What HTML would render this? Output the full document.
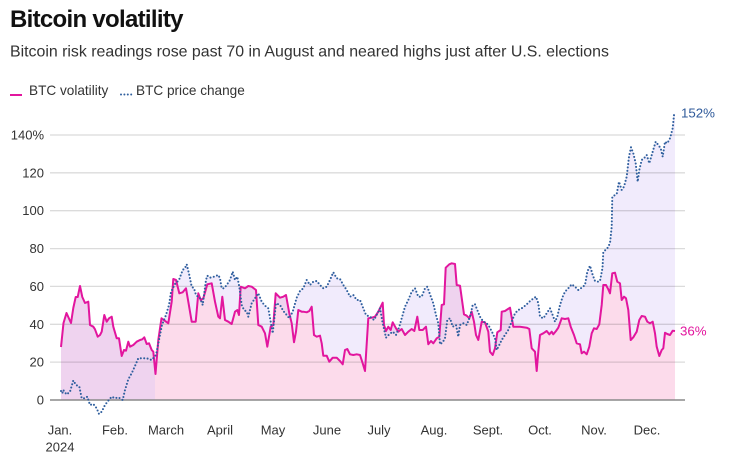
<!DOCTYPE html>
<html><head><meta charset="utf-8">
<style>
html,body{margin:0;padding:0;background:#fff;}
body{width:745px;height:466px;overflow:hidden;font-family:"Liberation Sans",Arial,sans-serif;}
</style></head>
<body>
<svg width="745" height="466" viewBox="0 0 745 466" xmlns="http://www.w3.org/2000/svg" style="display:block;font-family:'Liberation Sans',Arial,sans-serif;">
<defs>
<clipPath id="above0"><rect x="0" y="0" width="745" height="400"/></clipPath>
<clipPath id="abovePrice">
<rect x="0" y="0" width="155" height="466"/>
<polygon points="61,391 62.3,393.3 63.3,390 64.3,391.7 66.7,394.5 70,391.7 73.3,380.5 76,385 79.3,386.5 81.7,398.3 85,398.3 87.3,396.7 90,405 93.3,404 96.7,408.3 99,414 101.7,411.7 105,405 108.3,400.7 111.7,396.7 115,398.3 118.3,397.3 122.7,400 125,390 128.3,379.3 131.7,373.3 135,366 138.3,358.3 141.7,358.3 146.7,358.3 151.7,360 156,355 159,340 162,325 166,315 169,305 171,292 175,284 179,280 182.7,270 185,268 186.7,264.3 189.3,275 191.7,286.7 194,288.3 196,295 200,298.3 202.7,305 206,280 207.3,275.7 210,277.7 214,276.7 218.3,275 220,278.3 221.7,288.3 224,288.3 226.7,285 230,280 232.7,271.7 235,280 237.3,276.7 239.3,286.7 241.7,305 244,310 246.7,311.7 248.3,316.7 251.7,303.3 255,298.3 258.3,293.3 261.7,301.7 265,305.7 268.3,308.3 270.7,321.7 272.7,333.3 276,303.3 280,305 283.3,311 286.7,315 289.3,318.3 292.7,311.7 296.7,297.7 300,291 303.3,288.3 306.7,280 310,285 313.3,281.7 316.7,281 320,285 323.3,288.3 326.7,286.7 330,280 333.3,272.3 336.7,278.3 340,279 343.3,285 346.7,290 350,296.7 353.3,295 356.7,300 360,300 363.3,308.3 366,315 370,316.7 374,320 376.7,315 380,308.3 382.7,323.3 386,337.7 389.3,334.3 392.7,331.7 396,335 399.3,326.7 401.7,318.3 405,306.7 408.3,300 411.7,291.7 415,288.3 418.3,296.7 421.7,296.7 425,288.3 427.3,286.7 430,294.3 433.3,303.3 436,315 438.3,323.3 440,344.3 442.7,342.3 445,338.3 447.3,320 450,318.3 452.7,326.7 456,325 458.3,336.7 460,325 463.3,323.3 466.7,325 470,316.7 472.7,305 475,304.3 477.3,310 480,316.7 483.3,321.7 486.7,323.3 489.3,326.7 492.7,333.3 495,338.3 496.7,350 499.3,345 501.7,340 505,335 508.3,330 511.7,321.7 515,313.3 518.3,310 521.7,308.3 526,305 529.3,301.7 532.7,299 536,296.7 538.3,303.3 540,316.7 543.3,318.3 546.7,313.3 550,308.3 553.3,316.7 555,321.7 557.3,316.7 560,305 562.7,296.7 565,291.7 568.3,288.3 571.7,284.3 575,286.7 578.3,290 581.7,287.7 585,285 587.3,271.7 590,265.7 592.7,275 595,281 598.3,281.7 600,281 602.5,268 603.3,252 607.3,248.3 610,243.3 611.7,226.7 612.3,196.7 616.7,194 619,181.7 621.7,190 624,186.7 626.7,176.7 629,156.7 631,147.3 633.3,153.3 635.7,163.3 637.7,181.7 639.3,170 641.7,160 644,158.3 646.7,155 649.3,163.3 652.7,151.7 655.7,141.7 658.3,145 660.7,148.3 662.7,156.7 665,141.7 667.3,143.3 670,138.3 672.7,128.3 674,115 675,113 675,0 61,0"/>
</clipPath>
</defs>

<!-- Title -->
<text x="10" y="27" font-size="24" font-weight="bold" fill="#111" letter-spacing="-0.7">Bitcoin volatility</text>
<text x="10" y="56.5" font-size="15.9" fill="#333">Bitcoin risk readings rose past 70 in August and neared highs just after U.S. elections</text>

<!-- Legend -->
<line x1="10" y1="95" x2="22" y2="95" stroke="#e2169e" stroke-width="2"/>
<text x="29" y="95" font-size="13.6" fill="#333">BTC volatility</text>
<line x1="121" y1="94.5" x2="134" y2="94.5" stroke="#2f5f9e" stroke-width="2" stroke-dasharray="0 3.4" stroke-linecap="round"/>
<text x="136" y="95" font-size="13.6" fill="#333">BTC price change</text>

<!-- Fills -->
<polygon clip-path="url(#above0)" fill="#f1ebfc" points="61,391 62.3,393.3 63.3,390 64.3,391.7 66.7,394.5 70,391.7 73.3,380.5 76,385 79.3,386.5 81.7,398.3 85,398.3 87.3,396.7 90,405 93.3,404 96.7,408.3 99,414 101.7,411.7 105,405 108.3,400.7 111.7,396.7 115,398.3 118.3,397.3 122.7,400 125,390 128.3,379.3 131.7,373.3 135,366 138.3,358.3 141.7,358.3 146.7,358.3 151.7,360 156,355 159,340 162,325 166,315 169,305 171,292 175,284 179,280 182.7,270 185,268 186.7,264.3 189.3,275 191.7,286.7 194,288.3 196,295 200,298.3 202.7,305 206,280 207.3,275.7 210,277.7 214,276.7 218.3,275 220,278.3 221.7,288.3 224,288.3 226.7,285 230,280 232.7,271.7 235,280 237.3,276.7 239.3,286.7 241.7,305 244,310 246.7,311.7 248.3,316.7 251.7,303.3 255,298.3 258.3,293.3 261.7,301.7 265,305.7 268.3,308.3 270.7,321.7 272.7,333.3 276,303.3 280,305 283.3,311 286.7,315 289.3,318.3 292.7,311.7 296.7,297.7 300,291 303.3,288.3 306.7,280 310,285 313.3,281.7 316.7,281 320,285 323.3,288.3 326.7,286.7 330,280 333.3,272.3 336.7,278.3 340,279 343.3,285 346.7,290 350,296.7 353.3,295 356.7,300 360,300 363.3,308.3 366,315 370,316.7 374,320 376.7,315 380,308.3 382.7,323.3 386,337.7 389.3,334.3 392.7,331.7 396,335 399.3,326.7 401.7,318.3 405,306.7 408.3,300 411.7,291.7 415,288.3 418.3,296.7 421.7,296.7 425,288.3 427.3,286.7 430,294.3 433.3,303.3 436,315 438.3,323.3 440,344.3 442.7,342.3 445,338.3 447.3,320 450,318.3 452.7,326.7 456,325 458.3,336.7 460,325 463.3,323.3 466.7,325 470,316.7 472.7,305 475,304.3 477.3,310 480,316.7 483.3,321.7 486.7,323.3 489.3,326.7 492.7,333.3 495,338.3 496.7,350 499.3,345 501.7,340 505,335 508.3,330 511.7,321.7 515,313.3 518.3,310 521.7,308.3 526,305 529.3,301.7 532.7,299 536,296.7 538.3,303.3 540,316.7 543.3,318.3 546.7,313.3 550,308.3 553.3,316.7 555,321.7 557.3,316.7 560,305 562.7,296.7 565,291.7 568.3,288.3 571.7,284.3 575,286.7 578.3,290 581.7,287.7 585,285 587.3,271.7 590,265.7 592.7,275 595,281 598.3,281.7 600,281 602.5,268 603.3,252 607.3,248.3 610,243.3 611.7,226.7 612.3,196.7 616.7,194 619,181.7 621.7,190 624,186.7 626.7,176.7 629,156.7 631,147.3 633.3,153.3 635.7,163.3 637.7,181.7 639.3,170 641.7,160 644,158.3 646.7,155 649.3,163.3 652.7,151.7 655.7,141.7 658.3,145 660.7,148.3 662.7,156.7 665,141.7 667.3,143.3 670,138.3 672.7,128.3 674,115 675,113 675,400 61,400"/>

<polygon fill="#fcdbeb" points="61,347 63.5,323 66.5,313 71,323 73.3,308 75.7,297 77.7,297 80,286 82.3,297 85,303 88.3,301.7 90,325 93.3,326.7 95,329.3 97.7,336.7 100,335 101.7,331.7 104.3,315 106.7,321.7 109,318.3 111.7,316.7 113.3,326.7 116.7,338.3 119,338.3 121.7,356 124,350 126,350.7 128.3,341.7 130,346.7 133.3,345 136.7,341.7 140,340 142.3,339.3 144.3,337.3 146.7,344 149,343.3 151.7,350 153.3,351.7 155.5,374 158.3,340 161.5,318.3 168.3,323.3 171.7,301.7 173.3,279 176,280 179.3,293.3 182.7,292.3 186,288.3 188.3,301.7 191.7,321.7 195.7,321.7 198.3,293.3 200.7,300 203.3,298.3 207.3,284.3 211.7,283.3 215,301.7 218.3,316.7 220,318.3 222.3,296.7 225,320 228.3,321.7 231.7,324 235,311.7 237.3,310 239,315 240.7,286.7 245,288.3 248.3,286 251.7,286.7 256,290 258.3,325 261.7,326.7 265,333.3 267.3,346.7 270.7,326.7 273.3,325 275.7,293.3 280,297.7 283.3,296.7 286,295 289.3,313.3 291.7,323.3 294,342.3 296,331.7 298.3,310 301.7,311.7 303.3,311.7 306.7,312.3 309.3,311 311.7,306.7 314,335 316.7,336.7 320,335.7 321.7,343.3 323.3,355.7 326.7,355.7 329.3,361.7 332.7,357.7 336.7,357.7 340,361 342.7,364.3 345,350 347.3,349 350,354.3 353.3,355 356.7,354.3 360,355 362.7,363.3 365,371 368.3,318.3 371.7,317.7 375,316.7 378.3,311.7 382.7,302.7 384,325 386,331 388.3,326.7 390.7,330 392.7,322.3 396,328.3 398.3,331.7 401.7,329 405,335 408.3,331.7 411.7,329 414.3,331 417.3,316.7 419.3,330 422.7,330 426,326.7 428.3,344.3 431,341 433.3,343.3 436.7,338.3 439.3,336.7 441.7,305 444,304.3 445.7,267.7 449.3,264.3 451.7,263.3 455,264 456.7,285 460,285.7 462.7,305 464,314.3 466.7,315.7 469.3,318.3 471.7,311.7 474,321.7 476,335 478.3,340 481.7,321.7 485,322.3 488.3,331.7 490,351.7 492.7,355 495,348.3 497.3,332.3 500.7,330 501.7,311.7 505,311 510,307.7 513.3,326.7 520,326.7 526.7,327.7 529.3,329 531.7,348.3 535,351.7 536.7,371 538.3,351.7 540,335 543.3,333.3 546.7,331 549.3,334.3 551.7,331.7 553.3,334.3 556,331 558.3,327.7 561.7,318.3 565,319 568.3,318.3 570.7,326.7 574,335 576.7,343.3 580,344.3 581.7,353.3 584,351.7 586.7,354.3 589.3,346.7 591.7,333.3 594,328.3 596.7,329 599.3,324.3 601.7,305 603.3,285 606,285 608.3,289.3 610,293.3 612.3,273.3 615,272.7 617.3,281.7 620,283.3 621.7,300 624,296.7 626,298.3 628.3,310 630.7,340 633.3,337.3 636.7,331.7 639.3,320 641.7,316 645,316.7 647.3,321.7 650,323.3 652.7,321.7 655,333.3 656.7,346.7 659.3,356 661.7,350 663.3,348.3 665,332.7 667.3,334 670,335 672.7,330.7 675,331 675,400 61,400"/>
<polygon clip-path="url(#abovePrice)" fill="#efd3ef" points="61,347 63.5,323 66.5,313 71,323 73.3,308 75.7,297 77.7,297 80,286 82.3,297 85,303 88.3,301.7 90,325 93.3,326.7 95,329.3 97.7,336.7 100,335 101.7,331.7 104.3,315 106.7,321.7 109,318.3 111.7,316.7 113.3,326.7 116.7,338.3 119,338.3 121.7,356 124,350 126,350.7 128.3,341.7 130,346.7 133.3,345 136.7,341.7 140,340 142.3,339.3 144.3,337.3 146.7,344 149,343.3 151.7,350 153.3,351.7 155.5,374 158.3,340 161.5,318.3 168.3,323.3 171.7,301.7 173.3,279 176,280 179.3,293.3 182.7,292.3 186,288.3 188.3,301.7 191.7,321.7 195.7,321.7 198.3,293.3 200.7,300 203.3,298.3 207.3,284.3 211.7,283.3 215,301.7 218.3,316.7 220,318.3 222.3,296.7 225,320 228.3,321.7 231.7,324 235,311.7 237.3,310 239,315 240.7,286.7 245,288.3 248.3,286 251.7,286.7 256,290 258.3,325 261.7,326.7 265,333.3 267.3,346.7 270.7,326.7 273.3,325 275.7,293.3 280,297.7 283.3,296.7 286,295 289.3,313.3 291.7,323.3 294,342.3 296,331.7 298.3,310 301.7,311.7 303.3,311.7 306.7,312.3 309.3,311 311.7,306.7 314,335 316.7,336.7 320,335.7 321.7,343.3 323.3,355.7 326.7,355.7 329.3,361.7 332.7,357.7 336.7,357.7 340,361 342.7,364.3 345,350 347.3,349 350,354.3 353.3,355 356.7,354.3 360,355 362.7,363.3 365,371 368.3,318.3 371.7,317.7 375,316.7 378.3,311.7 382.7,302.7 384,325 386,331 388.3,326.7 390.7,330 392.7,322.3 396,328.3 398.3,331.7 401.7,329 405,335 408.3,331.7 411.7,329 414.3,331 417.3,316.7 419.3,330 422.7,330 426,326.7 428.3,344.3 431,341 433.3,343.3 436.7,338.3 439.3,336.7 441.7,305 444,304.3 445.7,267.7 449.3,264.3 451.7,263.3 455,264 456.7,285 460,285.7 462.7,305 464,314.3 466.7,315.7 469.3,318.3 471.7,311.7 474,321.7 476,335 478.3,340 481.7,321.7 485,322.3 488.3,331.7 490,351.7 492.7,355 495,348.3 497.3,332.3 500.7,330 501.7,311.7 505,311 510,307.7 513.3,326.7 520,326.7 526.7,327.7 529.3,329 531.7,348.3 535,351.7 536.7,371 538.3,351.7 540,335 543.3,333.3 546.7,331 549.3,334.3 551.7,331.7 553.3,334.3 556,331 558.3,327.7 561.7,318.3 565,319 568.3,318.3 570.7,326.7 574,335 576.7,343.3 580,344.3 581.7,353.3 584,351.7 586.7,354.3 589.3,346.7 591.7,333.3 594,328.3 596.7,329 599.3,324.3 601.7,305 603.3,285 606,285 608.3,289.3 610,293.3 612.3,273.3 615,272.7 617.3,281.7 620,283.3 621.7,300 624,296.7 626,298.3 628.3,310 630.7,340 633.3,337.3 636.7,331.7 639.3,320 641.7,316 645,316.7 647.3,321.7 650,323.3 652.7,321.7 655,333.3 656.7,346.7 659.3,356 661.7,350 663.3,348.3 665,332.7 667.3,334 670,335 672.7,330.7 675,331 675,400 61,400"/>

<!-- Grid -->
<g stroke="rgba(0,0,0,0.14)" stroke-width="1.3">
<line x1="50" y1="135" x2="685" y2="135"/>
<line x1="50" y1="172.8" x2="685" y2="172.8"/>
<line x1="50" y1="210.7" x2="685" y2="210.7"/>
<line x1="50" y1="248.6" x2="685" y2="248.6"/>
<line x1="50" y1="286.4" x2="685" y2="286.4"/>
<line x1="50" y1="324.3" x2="685" y2="324.3"/>
<line x1="50" y1="362.1" x2="685" y2="362.1"/>
</g>
<line x1="50" y1="400" x2="685" y2="400" stroke="#8a8a8a" stroke-width="1.5"/>

<!-- Y labels -->
<g font-size="13" fill="#333" text-anchor="end">
<text x="44" y="139.5">140%</text>
<text x="44" y="177.3">120</text>
<text x="44" y="215.2">100</text>
<text x="44" y="253.1">80</text>
<text x="44" y="290.9">60</text>
<text x="44" y="328.8">40</text>
<text x="44" y="366.6">20</text>
<text x="44" y="404.5">0</text>
</g>

<!-- X labels -->
<g font-size="13" fill="#333" text-anchor="middle">
<text x="60" y="434.5">Jan.</text>
<text x="60" y="451.5">2024</text>
<text x="115" y="434.5">Feb.</text>
<text x="166" y="434.5">March</text>
<text x="220" y="434.5">April</text>
<text x="273" y="434.5">May</text>
<text x="327" y="434.5">June</text>
<text x="379" y="434.5">July</text>
<text x="434" y="434.5">Aug.</text>
<text x="488" y="434.5">Sept.</text>
<text x="540" y="434.5">Oct.</text>
<text x="594" y="434.5">Nov.</text>
<text x="647" y="434.5">Dec.</text>
</g>

<!-- Volatility line -->
<polyline fill="none" stroke="#e2169e" stroke-width="2" stroke-linejoin="round" points="61,347 63.5,323 66.5,313 71,323 73.3,308 75.7,297 77.7,297 80,286 82.3,297 85,303 88.3,301.7 90,325 93.3,326.7 95,329.3 97.7,336.7 100,335 101.7,331.7 104.3,315 106.7,321.7 109,318.3 111.7,316.7 113.3,326.7 116.7,338.3 119,338.3 121.7,356 124,350 126,350.7 128.3,341.7 130,346.7 133.3,345 136.7,341.7 140,340 142.3,339.3 144.3,337.3 146.7,344 149,343.3 151.7,350 153.3,351.7 155.5,374 158.3,340 161.5,318.3 168.3,323.3 171.7,301.7 173.3,279 176,280 179.3,293.3 182.7,292.3 186,288.3 188.3,301.7 191.7,321.7 195.7,321.7 198.3,293.3 200.7,300 203.3,298.3 207.3,284.3 211.7,283.3 215,301.7 218.3,316.7 220,318.3 222.3,296.7 225,320 228.3,321.7 231.7,324 235,311.7 237.3,310 239,315 240.7,286.7 245,288.3 248.3,286 251.7,286.7 256,290 258.3,325 261.7,326.7 265,333.3 267.3,346.7 270.7,326.7 273.3,325 275.7,293.3 280,297.7 283.3,296.7 286,295 289.3,313.3 291.7,323.3 294,342.3 296,331.7 298.3,310 301.7,311.7 303.3,311.7 306.7,312.3 309.3,311 311.7,306.7 314,335 316.7,336.7 320,335.7 321.7,343.3 323.3,355.7 326.7,355.7 329.3,361.7 332.7,357.7 336.7,357.7 340,361 342.7,364.3 345,350 347.3,349 350,354.3 353.3,355 356.7,354.3 360,355 362.7,363.3 365,371 368.3,318.3 371.7,317.7 375,316.7 378.3,311.7 382.7,302.7 384,325 386,331 388.3,326.7 390.7,330 392.7,322.3 396,328.3 398.3,331.7 401.7,329 405,335 408.3,331.7 411.7,329 414.3,331 417.3,316.7 419.3,330 422.7,330 426,326.7 428.3,344.3 431,341 433.3,343.3 436.7,338.3 439.3,336.7 441.7,305 444,304.3 445.7,267.7 449.3,264.3 451.7,263.3 455,264 456.7,285 460,285.7 462.7,305 464,314.3 466.7,315.7 469.3,318.3 471.7,311.7 474,321.7 476,335 478.3,340 481.7,321.7 485,322.3 488.3,331.7 490,351.7 492.7,355 495,348.3 497.3,332.3 500.7,330 501.7,311.7 505,311 510,307.7 513.3,326.7 520,326.7 526.7,327.7 529.3,329 531.7,348.3 535,351.7 536.7,371 538.3,351.7 540,335 543.3,333.3 546.7,331 549.3,334.3 551.7,331.7 553.3,334.3 556,331 558.3,327.7 561.7,318.3 565,319 568.3,318.3 570.7,326.7 574,335 576.7,343.3 580,344.3 581.7,353.3 584,351.7 586.7,354.3 589.3,346.7 591.7,333.3 594,328.3 596.7,329 599.3,324.3 601.7,305 603.3,285 606,285 608.3,289.3 610,293.3 612.3,273.3 615,272.7 617.3,281.7 620,283.3 621.7,300 624,296.7 626,298.3 628.3,310 630.7,340 633.3,337.3 636.7,331.7 639.3,320 641.7,316 645,316.7 647.3,321.7 650,323.3 652.7,321.7 655,333.3 656.7,346.7 659.3,356 661.7,350 663.3,348.3 665,332.7 667.3,334 670,335 672.7,330.7 675,331"/>

<!-- Price line (dotted) -->
<polyline fill="none" stroke="#2f5f9e" stroke-width="2.1" stroke-dasharray="0 3.4" stroke-linecap="round" stroke-linejoin="round" points="61,391 62.3,393.3 63.3,390 64.3,391.7 66.7,394.5 70,391.7 73.3,380.5 76,385 79.3,386.5 81.7,398.3 85,398.3 87.3,396.7 90,405 93.3,404 96.7,408.3 99,414 101.7,411.7 105,405 108.3,400.7 111.7,396.7 115,398.3 118.3,397.3 122.7,400 125,390 128.3,379.3 131.7,373.3 135,366 138.3,358.3 141.7,358.3 146.7,358.3 151.7,360 156,355 159,340 162,325 166,315 169,305 171,292 175,284 179,280 182.7,270 185,268 186.7,264.3 189.3,275 191.7,286.7 194,288.3 196,295 200,298.3 202.7,305 206,280 207.3,275.7 210,277.7 214,276.7 218.3,275 220,278.3 221.7,288.3 224,288.3 226.7,285 230,280 232.7,271.7 235,280 237.3,276.7 239.3,286.7 241.7,305 244,310 246.7,311.7 248.3,316.7 251.7,303.3 255,298.3 258.3,293.3 261.7,301.7 265,305.7 268.3,308.3 270.7,321.7 272.7,333.3 276,303.3 280,305 283.3,311 286.7,315 289.3,318.3 292.7,311.7 296.7,297.7 300,291 303.3,288.3 306.7,280 310,285 313.3,281.7 316.7,281 320,285 323.3,288.3 326.7,286.7 330,280 333.3,272.3 336.7,278.3 340,279 343.3,285 346.7,290 350,296.7 353.3,295 356.7,300 360,300 363.3,308.3 366,315 370,316.7 374,320 376.7,315 380,308.3 382.7,323.3 386,337.7 389.3,334.3 392.7,331.7 396,335 399.3,326.7 401.7,318.3 405,306.7 408.3,300 411.7,291.7 415,288.3 418.3,296.7 421.7,296.7 425,288.3 427.3,286.7 430,294.3 433.3,303.3 436,315 438.3,323.3 440,344.3 442.7,342.3 445,338.3 447.3,320 450,318.3 452.7,326.7 456,325 458.3,336.7 460,325 463.3,323.3 466.7,325 470,316.7 472.7,305 475,304.3 477.3,310 480,316.7 483.3,321.7 486.7,323.3 489.3,326.7 492.7,333.3 495,338.3 496.7,350 499.3,345 501.7,340 505,335 508.3,330 511.7,321.7 515,313.3 518.3,310 521.7,308.3 526,305 529.3,301.7 532.7,299 536,296.7 538.3,303.3 540,316.7 543.3,318.3 546.7,313.3 550,308.3 553.3,316.7 555,321.7 557.3,316.7 560,305 562.7,296.7 565,291.7 568.3,288.3 571.7,284.3 575,286.7 578.3,290 581.7,287.7 585,285 587.3,271.7 590,265.7 592.7,275 595,281 598.3,281.7 600,281 602.5,268 603.3,252 607.3,248.3 610,243.3 611.7,226.7 612.3,196.7 616.7,194 619,181.7 621.7,190 624,186.7 626.7,176.7 629,156.7 631,147.3 633.3,153.3 635.7,163.3 637.7,181.7 639.3,170 641.7,160 644,158.3 646.7,155 649.3,163.3 652.7,151.7 655.7,141.7 658.3,145 660.7,148.3 662.7,156.7 665,141.7 667.3,143.3 670,138.3 672.7,128.3 674,115 675,113"/>

<!-- End labels -->
<text x="681" y="117.5" font-size="13.3" fill="#2f5a9a">152%</text>
<text x="680" y="335.5" font-size="13.3" fill="#e2169e">36%</text>
</svg>
</body></html>
